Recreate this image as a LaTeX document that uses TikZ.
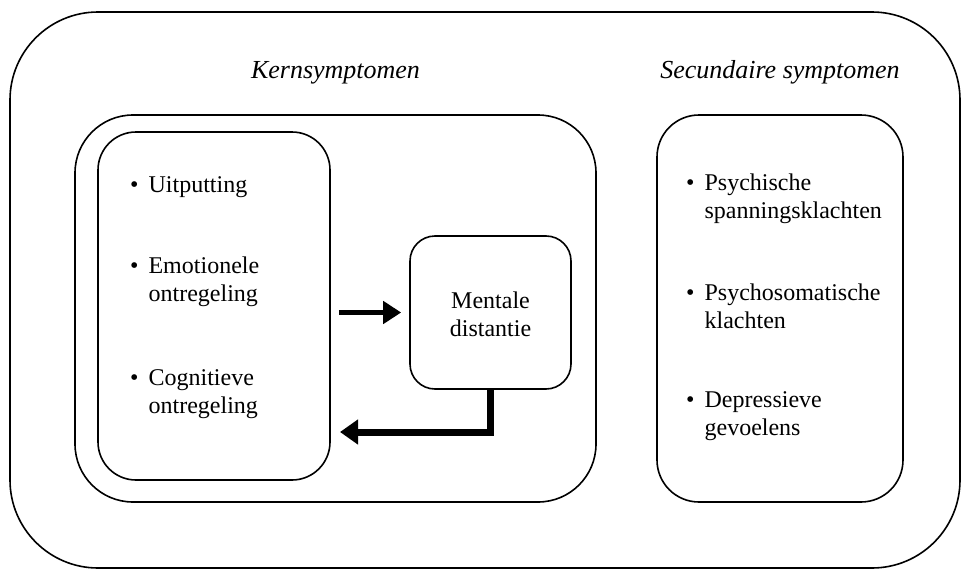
\documentclass[tikz,border=0pt]{standalone}
\usepackage{fontspec}
\setmainfont{Liberation Serif}
\usetikzlibrary{arrows.meta,positioning}
\newcommand{\symitem}[2]{\begin{tabular}[t]{@{}l@{\hspace{10pt}}l@{}}\textbullet & #1\\ & #2\end{tabular}}
\newcommand{\symsingle}[1]{\begin{tabular}[t]{@{}l@{\hspace{10pt}}l@{}}\textbullet & #1\end{tabular}}

\begin{document}
\begin{tikzpicture}[
  x=1pt, y=-1pt,
  every node/.style={font=\fontsize{24}{28}\selectfont},
  outerbox/.style={draw, line width=1.6pt, rounded corners=88pt, minimum width=950pt, minimum height=556pt, inner sep=0pt},
  kernbox/.style={draw, line width=1.6pt, rounded corners=58pt, minimum width=521pt, minimum height=387pt, inner sep=0pt},
  corebox/.style={draw, line width=1.6pt, rounded corners=38pt, minimum width=232pt, minimum height=348pt, inner sep=0pt},
  distbox/.style={draw, line width=1.6pt, rounded corners=25pt, minimum width=161pt, minimum height=153pt, inner sep=0pt},
  secbox/.style={draw, line width=1.6pt, rounded corners=42pt, minimum width=246pt, minimum height=387pt, inner sep=0pt},
  title/.style={font=\fontsize{26}{30}\selectfont\itshape, anchor=base},
  item/.style={anchor=base west, inner sep=0pt},
  fwd/.style={-{Triangle[length=18pt,width=22pt]}, line width=5pt},
  back/.style={-{Triangle[length=18pt,width=24pt]}, line width=7pt},
]
\useasboundingbox (0,0) rectangle (962,570);

% Frames
\node[outerbox] (outer) at (485,290) {};
\node[kernbox] (kern) at (335.5,308.5) {};
\node[corebox] (core) at (214,306) {};
\node[distbox] (dist) at (490.5,312.5) {};
\node[secbox] (sec) at (780,308.5) {};

% Titles
\node[title] (kerntitle) at (kern.north |- 0,78) {Kernsymptomen};
\node[title] (sectitle) at (sec.north |- 0,78) {Secundaire symptomen};

% Core symptoms
\node[item] (uit) at (130,192) {\symsingle{Uitputting}};
\node[item] (emo) at (130,273) {\symitem{Emotionele}{ontregeling}};
\node[item] (cog) at (130,385) {\symitem{Cognitieve}{ontregeling}};

% Mental distance
\node[anchor=base, align=center, inner sep=0pt] (distlabel) at (dist.center |- 0,336) {Mentale\\distantie};

% Secondary symptoms
\node[item] (psy) at (686,190) {\symitem{Psychische}{spanningsklachten}};
\node[item] (som) at (686,300) {\symitem{Psychosomatische}{klachten}};
\node[item] (dep) at (686,407) {\symitem{Depressieve}{gevoelens}};

% Arrows
\coordinate (backend) at (330,432);
\draw[fwd, shorten <=8pt, shorten >=8pt] (core.east |- dist.west) -- (dist.west);
\draw[back, shorten >=10pt] (dist.south) |- (backend);

\end{tikzpicture}
\end{document}
